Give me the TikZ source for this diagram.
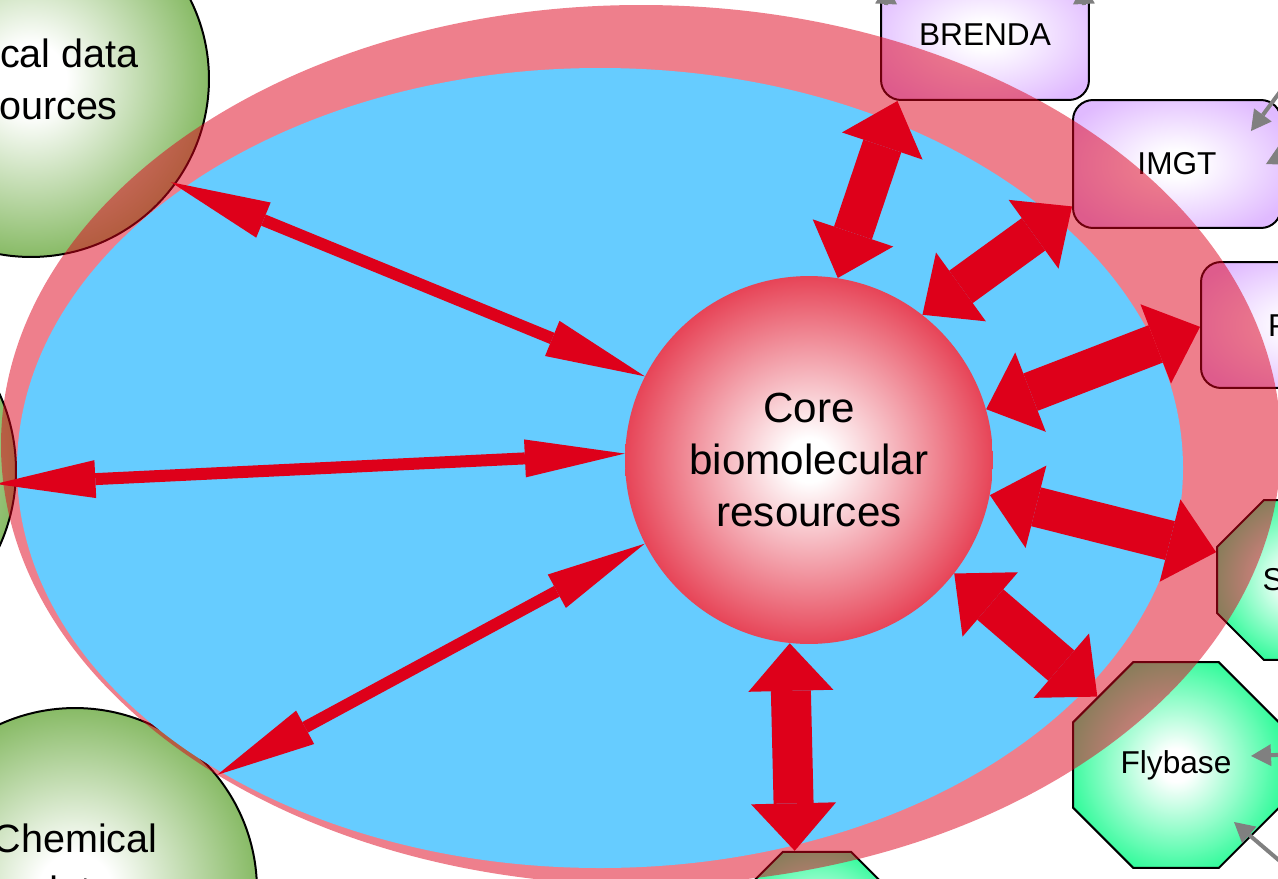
\documentclass[tikz,border=0pt]{standalone}
\usepackage{fontspec}
\setmainfont{Liberation Sans}
\usetikzlibrary{calc}
\usetikzlibrary{arrows.meta}
\usetikzlibrary{shapes.geometric}

\definecolor{arrowred}{RGB}{222,0,26}
\definecolor{skyfill}{RGB}{102,204,255}
\definecolor{leafgreen}{RGB}{112,173,71}
\definecolor{lilac}{RGB}{224,186,255}
\definecolor{mint}{RGB}{20,250,140}
\definecolor{linkgray}{RGB}{128,128,128}

\pgfdeclareradialshading{coreshade}{\pgfpointorigin}{color(0bp)=(white); color(3bp)=(white); color(33bp)=(arrowred); color(50bp)=(arrowred)}
\pgfdeclareradialshading{leafshade}{\pgfpointorigin}{color(0bp)=(white); color(5bp)=(white); color(29bp)=(leafgreen); color(50bp)=(leafgreen)}
\pgfdeclareradialshading{lilacshade}{\pgfpointorigin}{color(0bp)=(white); color(5bp)=(white); color(30bp)=(lilac); color(50bp)=(lilac)}
\pgfdeclareradialshading{mintshade}{\pgfpointorigin}{color(0bp)=(white); color(4bp)=(white); color(30bp)=(mint); color(50bp)=(mint)}

\tikzset{
  source/.style={circle, draw=black, line width=0.04cm, inner sep=0pt, shade, shading=leafshade,
    align=center, font=\fontsize{22.5}{29.6}\selectfont},
  dbbox/.style={rectangle, rounded corners=0.4cm, draw=black, line width=0.04cm, shade, shading=lilacshade,
    minimum width=4.16cm, minimum height=2.56cm, font=\fontsize{18}{22}\selectfont},
  organism/.style={regular polygon, regular polygon sides=8, draw=black, line width=0.04cm, inner sep=0pt,
    shade, shading=mintshade, font=\fontsize{18}{22}\selectfont},
  coreball/.style={circle, inner sep=0pt, minimum size=7.36cm, shade, shading=coreshade,
    align=center, font=\fontsize{24}{29.6}\selectfont},
  thinlink/.style={arrowred, line width=0.24cm,
    {Triangle[length=2cm,width=0.76cm,line width=0pt]}-{Triangle[length=2cm,width=0.76cm,line width=0pt]}},
  thicklink/.style={arrowred, line width=0.8cm,
    {Triangle[length=0.95cm,width=1.7cm,line width=0pt]}-{Triangle[length=0.95cm,width=1.7cm,line width=0pt]}},
  feedlink/.style={linkgray, line width=0.08cm, -{Triangle[length=0.4cm,width=0.44cm,line width=0pt]}},
}

\begin{document}
\begin{tikzpicture}[x=0.02cm, y=-0.02cm]
  \useasboundingbox (0,0) rectangle (1278,879);
  \clip (0,0) rectangle (1278,879);

  % outer resources
  \node[source, minimum size=7.12cm] (clinical) at (31,79) {Clinical data\\resources};
  \node[source, minimum size=7.36cm] (leftres) at (-168,470) {};
  \node[source, minimum size=7.28cm] (chemical) at (75,890) {Chemical\\data\\resources};
  \node[dbbox, minimum height=2.6cm] (brenda) at (985,35) {BRENDA};
  \node[dbbox] (imgt) at (1177,164) {IMGT};
  \node[dbbox, minimum height=2.52cm] (pfam) at (1305,325) {Pfam};
  \node[organism, minimum size=3.46cm] (sgd) at (1297,580) {SGD};
  \node[organism, minimum size=4.46cm] (flybase) at (1176,765) {Flybase};
  \node[organism, minimum size=3.56cm] (modorg) at (817,934) {};

  % rings
  \fill[arrowred, fill opacity=0.5] (641,445) ellipse [x radius=640, y radius=440];
  \fill[skyfill] (600,468) ellipse [x radius=583, y radius=400];

  \node[coreball] (core) at (809,460) {Core\\biomolecular\\resources};

  % links to the core
  \draw[thinlink, shorten <=-3] (clinical.-36) -- (core.153);
  \draw[thinlink, shorten <=-12] (leftres.-4) -- (core.178);
  \draw[thinlink] (chemical.39) -- (core.207);
  \draw[thicklink] (core.264) -- (modorg.105);
  \draw[thicklink] (brenda.217) -- (core.81);
  \draw[thicklink] (imgt.202) -- (core.52);
  \draw[thicklink] (pfam.181) -- (core.16);
  \draw[thicklink] (sgd.161) -- (core.-11);
  \draw[thicklink] (flybase.139) -- (core.-38);

  % grey feeds from outside
  \coordinate (brendaupA) at (887,-16);
  \coordinate (brendaupB) at (1083,-16);
  \coordinate (imgtinA) at (1305,58);
  \coordinate (imgtinB) at (1318,138);
  \coordinate (flyinA) at (1300,754);
  \coordinate (flyinB) at (1295,874);
  \draw[feedlink] ($(brenda.north west)+(6,36)$) -- (brendaupA);
  \draw[feedlink] ($(brenda.north east)+(-6,36)$) -- (brendaupB);
  \draw[feedlink] (imgtinA) -- ($(imgt.north east)+(-31,32)$);
  \draw[feedlink] (imgtinB) -- ($(imgt.east)+(-16,0)$);
  \draw[feedlink] (flyinA) -- ($(flybase.east)+(-29,-9)$);
  \draw[feedlink] (flyinB) -- ($(flybase.east)+(-46,57)$);
\end{tikzpicture}
\end{document}
